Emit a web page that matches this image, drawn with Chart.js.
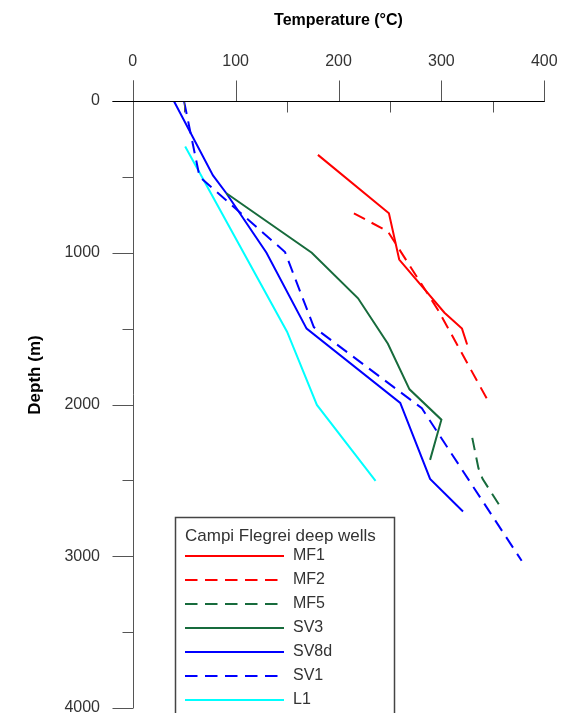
<!DOCTYPE html>
<html>
<head>
<meta charset="utf-8">
<script src="https://cdn.jsdelivr.net/npm/chart.js@4.4.1/dist/chart.umd.min.js"></script>
<style>
  body { margin: 0; background: #fff; }
</style>
</head>
<body>
<canvas id="Chart" width="573" height="713"></canvas>
<script>
// well names, in legend order
const wellNames = ['MF1', 'MF2', 'MF5', 'SV3', 'SV8d', 'SV1', 'L1'];

// temperature (°C) / depth (m)
const mf1Temp = [180, 249, 259, 303, 320, 325];
const mf1Depth = [355, 740, 1045, 1395, 1500, 1605];
const mf2Temp = [215, 248, 297, 344];
const mf2Depth = [740, 860, 1380, 1960];
const mf5Temp = [330, 336, 340, 356];
const mf5Depth = [2220, 2420, 2490, 2660];
const sv3Temp = [91, 174, 219, 248, 269, 300, 289];
const sv3Depth = [608, 1000, 1300, 1600, 1900, 2100, 2365];
const sv8dTemp = [40, 78, 91, 130, 169, 260, 289, 321];
const sv8dDepth = [0, 490, 608, 1000, 1500, 1990, 2490, 2705];
const sv1Temp = [50, 65, 148, 176, 281, 378];
const sv1Depth = [5, 500, 995, 1490, 2025, 3030];
const l1Temp = [51, 150, 179, 236];
const l1Depth = [300, 1520, 2003, 2503];

// axis ticks
const tempMajor = [0, 100, 200, 300, 400];
const tempMinor = [50, 150, 250, 350];
const depthMajor = [0, 1000, 2000, 3000, 4000];
const depthMinor = [500, 1500, 2500, 3500];

const FONT = "'Liberation Sans', Arial, sans-serif";
const GREEN = '#176b3c';

function pts(t, d) {
  return t.map((v, i) => ({x: v, y: d[i]}));
}

const series = [
  {t: mf1Temp, d: mf1Depth, color: '#ff0000', dash: []},
  {t: mf2Temp, d: mf2Depth, color: '#ff0000', dash: [12.5, 7.5]},
  {t: mf5Temp, d: mf5Depth, color: GREEN, dash: [12.5, 7.5]},
  {t: sv3Temp, d: sv3Depth, color: GREEN, dash: []},
  {t: sv8dTemp, d: sv8dDepth, color: '#0000ff', dash: []},
  {t: sv1Temp, d: sv1Depth, color: '#0000ff', dash: [12.5, 7.5]},
  {t: l1Temp, d: l1Depth, color: '#00ffff', dash: []}
];

// axis lines + major/minor ticks, y title, boxed legend
const wellPlugin = {
  id: 'wellPlugin',
  afterDatasetsDraw(chart) {
    const ctx = chart.ctx;
    const xs = chart.scales.x, ys = chart.scales.y;
    const y0 = Math.round(ys.getPixelForValue(0)) + 0.5;
    const x0 = Math.round(xs.getPixelForValue(0)) + 0.5;
    ctx.save();
    ctx.lineWidth = 1;

    ctx.strokeStyle = '#555';
    ctx.beginPath();
    ctx.moveTo(x0, y0 - 21);
    ctx.lineTo(x0, ys.getPixelForValue(4000));
    ctx.stroke();
    ctx.beginPath();
    depthMajor.forEach(v => {
      const p = Math.round(ys.getPixelForValue(v)) + 0.5;
      ctx.moveTo(x0 - 21, p); ctx.lineTo(x0, p);
    });
    depthMinor.forEach(v => {
      const p = Math.round(ys.getPixelForValue(v)) + 0.5;
      ctx.moveTo(x0 - 11, p); ctx.lineTo(x0, p);
    });
    tempMajor.forEach(v => {
      const p = Math.round(xs.getPixelForValue(v)) + 0.5;
      ctx.moveTo(p, y0 - 21); ctx.lineTo(p, y0);
    });
    tempMinor.forEach(v => {
      const p = Math.round(xs.getPixelForValue(v)) + 0.5;
      ctx.moveTo(p, y0); ctx.lineTo(p, y0 + 11);
    });
    ctx.stroke();

    ctx.strokeStyle = '#000';
    ctx.beginPath();
    ctx.moveTo(x0 - 21, y0);
    ctx.lineTo(xs.getPixelForValue(400) + 0.5, y0);
    ctx.stroke();

    // y title
    ctx.fillStyle = '#000';
    ctx.font = 'bold 17px ' + FONT;
    ctx.textAlign = 'center';
    ctx.textBaseline = 'middle';
    ctx.translate(35, 375);
    ctx.rotate(-Math.PI / 2);
    ctx.fillText('Depth (m)', 0, 0);
    ctx.restore();

    // legend
    ctx.save();
    const lx = 175, ly = 517;
    ctx.fillStyle = '#fff';
    ctx.fillRect(lx, ly, 219, 220);
    ctx.strokeStyle = '#444';
    ctx.lineWidth = 1.5;
    ctx.strokeRect(lx + 0.5, ly + 0.5, 219, 220);
    ctx.textAlign = 'left';
    ctx.textBaseline = 'middle';
    ctx.fillStyle = '#333';
    ctx.font = '17px ' + FONT;
    ctx.fillText('Campi Flegrei deep wells', 185, 536);
    ctx.font = '16px ' + FONT;
    chart.data.datasets.forEach((ds, i) => {
      const yy = 556 + i * 24;
      ctx.strokeStyle = ds.borderColor;
      ctx.lineWidth = 2;
      ctx.setLineDash(ds.borderDash);
      ctx.beginPath();
      ctx.moveTo(185, yy); ctx.lineTo(284, yy);
      ctx.stroke();
      ctx.setLineDash([]);
      ctx.fillStyle = '#333';
      ctx.fillText(ds.label, 293, yy);
    });
    ctx.restore();
  }
};

const ctx = document.getElementById('Chart').getContext('2d');
const wellChart = new Chart(ctx, {
  type: 'scatter',
  data: {
    datasets: series.map((s, i) => ({
      label: wellNames[i],
      data: pts(s.t, s.d),
      showLine: true,
      borderColor: s.color,
      backgroundColor: s.color,
      borderDash: s.dash,
      borderWidth: 2,
      pointRadius: 0,
      tension: 0
    }))
  },
  options: {
    responsive: false,
    animation: false,
    layout: { padding: { left: 0, top: 0, right: 28.7, bottom: 5 } },
    plugins: {
      legend: { display: false },
      tooltip: { enabled: false }
    },
    scales: {
      x: {
        type: 'linear',
        position: 'top',
        min: 0,
        max: 400,
        afterFit: scale => { scale.height = 101; },
        // tick marks hidden (drawn by plugin), tickLength only spaces the labels
        grid: { display: false, drawTicks: true, tickLength: 29.7 },
        border: { display: false },
        ticks: { stepSize: 100, padding: 0, color: '#333', font: { size: 16, family: FONT } },
        title: {
          display: true,
          text: 'Temperature (°C)',
          color: '#000',
          padding: { top: 11 },
          font: { size: 16, weight: 'bold', family: FONT }
        }
      },
      y: {
        type: 'linear',
        reverse: true,
        min: 0,
        max: 4000,
        afterFit: scale => { scale.width = 132.7; },
        grid: { display: false, drawTicks: true, tickLength: 32.7 },
        border: { display: false },
        ticks: {
          stepSize: 1000,
          padding: 0,
          color: '#333',
          font: { size: 16, family: FONT, lineHeight: 0.5 },
          callback: v => String(v)
        }
      }
    }
  },
  plugins: [wellPlugin]
});
</script>
</body>
</html>
